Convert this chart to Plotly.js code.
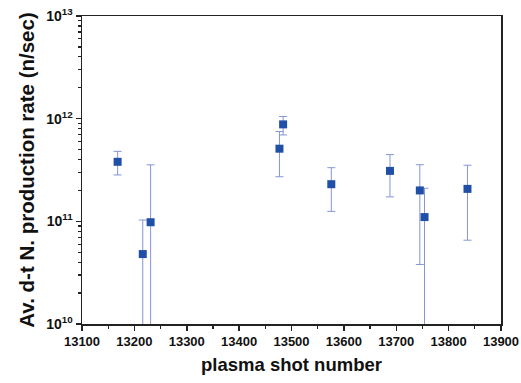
<!DOCTYPE html>
<html><head><meta charset="utf-8">
<script src="https://cdn.plot.ly/plotly-3.0.1.min.js"></script>
<style>html,body{margin:0;padding:0;background:#fff;}#chart{width:521px;height:383px;}</style>
</head><body><div id="chart"></div>
<script>
const shots = [13168, 13216, 13231, 13477, 13484, 13576, 13688, 13745, 13754, 13836];
const rate  = [3.8e11, 4.8e10, 9.8e10, 5.1e11, 8.8e11, 2.3e11, 3.1e11, 2.0e11, 1.1e11, 2.07e11];
const upper = [4.8e11, 1.03e11, 3.55e11, 7.5e11, 1.05e12, 3.33e11, 4.47e11, 3.56e11, 2.1e11, 3.52e11];
const lower = [2.83e11, 1e9, 1e9, 2.72e11, 6.94e11, 1.25e11, 1.73e11, 3.8e10, 1e9, 6.55e10];

const xTickVals = [13100, 13200, 13300, 13400, 13500, 13600, 13700, 13800, 13900];
const xTickText = ['13100', '13200', '13300', '13400', '13500', '13600', '13700', '13800', '13900'];
const yTickVals = [1e10, 1e11, 1e12, 1e13];
const yTickText = ['10<sup>10</sup>', '10<sup>11</sup>', '10<sup>12</sup>', '10<sup>13</sup>'];

const plus = upper.map((u, i) => u - rate[i]);
const minus = lower.map((l, i) => rate[i] - l);

const trace = {
  x: shots, y: rate, type: 'scatter', mode: 'markers',
  marker: {symbol: 'square', size: 8, color: '#1f4fa6'},
  error_y: {type: 'data', symmetric: false, array: plus, arrayminus: minus,
            color: '#8595d8', thickness: 1, width: 4},
  showlegend: false, cliponaxis: true
};

const font = 'Arial, "Liberation Sans", sans-serif';
const layout = {
  width: 521, height: 383,
  margin: {l: 82, r: 20, t: 16, b: 59},
  paper_bgcolor: '#fff', plot_bgcolor: '#fff',
  font: {family: font, color: '#111'},
  xaxis: {
    range: [13100, 13900],
    tickmode: 'array', tickvals: xTickVals, ticktext: xTickText.map(t => '<b>' + t + '</b>'),
    ticks: 'outside', ticklen: 5, tickwidth: 1.5, tickcolor: '#222',
    minor: {ticks: 'outside', ticklen: 3, dtick: 50, tick0: 13100, tickcolor: '#222', tickwidth: 1.2},
    showline: true, linecolor: '#222', linewidth: 1.5, mirror: true,
    showgrid: false, zeroline: false,
    tickfont: {size: 13, family: font},
    title: {text: '<b>plasma shot number</b>', font: {size: 18.5, family: font}, standoff: 10}
  },
  yaxis: {
    type: 'log', range: [10, 13],
    tickmode: 'array', tickvals: yTickVals, ticktext: yTickText.map(t => '<b>' + t + '</b>'),
    ticks: 'outside', ticklen: 5, tickwidth: 1.5, tickcolor: '#222',
    minor: {ticks: 'outside', ticklen: 3, dtick: 'D1', tickcolor: '#222', tickwidth: 1.2},
    showline: true, linecolor: '#222', linewidth: 1.5, mirror: true,
    showgrid: false, zeroline: false,
    tickfont: {size: 14, family: font},
    title: {text: '<b>Av. d-t N. production rate (n/sec)</b>', font: {size: 20.5, family: font}, standoff: 6}
  }
};

Plotly.newPlot('chart', [trace], layout, {staticPlot: true, displayModeBar: false});
</script>
</body></html>
